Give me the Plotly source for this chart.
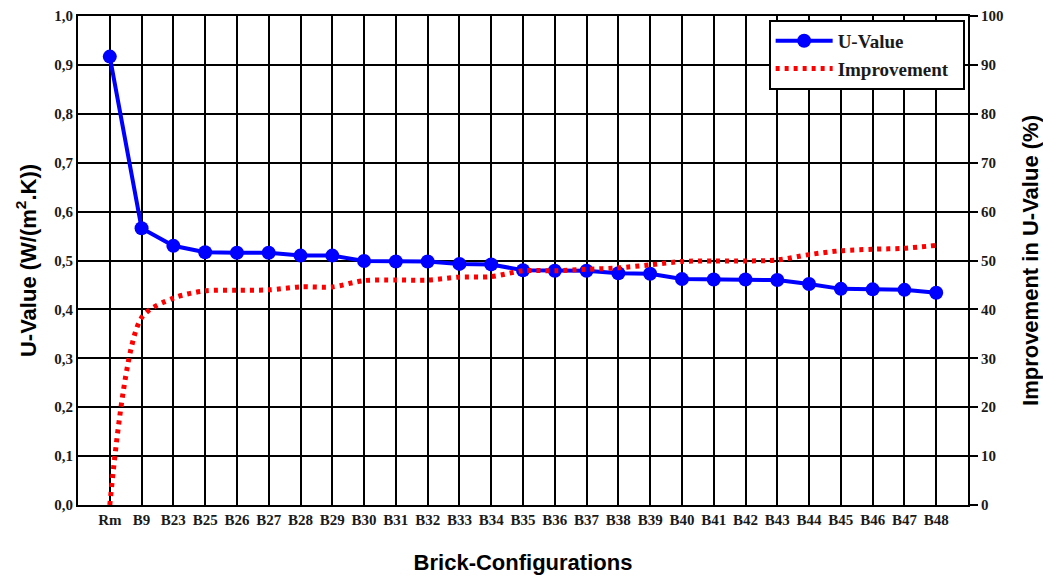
import plotly.graph_objects as go

categories = ["Rm", "B9", "B23", "B25", "B26", "B27", "B28", "B29", "B30", "B31", "B32",
              "B33", "B34", "B35", "B36", "B37", "B38", "B39", "B40", "B41", "B42",
              "B43", "B44", "B45", "B46", "B47", "B48"]
u_value = [0.917, 0.566, 0.530, 0.517, 0.516, 0.516, 0.510, 0.510, 0.499, 0.498, 0.498,
           0.493, 0.492, 0.480, 0.479, 0.479, 0.474, 0.473, 0.462, 0.461, 0.461,
           0.460, 0.452, 0.442, 0.441, 0.440, 0.434]
improvement = [0.0, 38.3, 42.3, 43.8, 43.9, 44.0, 44.6, 44.6, 45.9, 46.0, 46.0,
               46.6, 46.7, 47.9, 47.9, 48.2, 48.5, 49.1, 49.8, 49.9, 49.9,
               50.1, 51.2, 52.0, 52.3, 52.5, 53.1]

fig = go.Figure()
fig.add_trace(go.Scatter(
    x=categories, y=improvement, name="Improvement\u00a0\u00a0", yaxis="y2",
    mode="lines", line=dict(color="#ff0000", width=5, dash="4px,5px", shape="spline", smoothing=0.8),
    legendrank=2,
))
fig.add_trace(go.Scatter(
    x=categories, y=u_value, name="U-Value",
    mode="lines+markers", line=dict(color="#0000ff", width=4),
    marker=dict(size=14, color="#0000ff"),
    legendrank=1,
))

tickfont = dict(family="Liberation Serif", size=15, color="#1a1a1a", weight="bold")
titlefont = dict(family="Liberation Sans", size=22, color="#000000", weight="bold")

fig.update_layout(
    width=1043, height=579,
    margin=dict(l=78, r=75, t=16, b=74),
    paper_bgcolor="white", plot_bgcolor="white",
    separators=",.",
    showlegend=True,
    legend=dict(x=0.776, y=0.992, xanchor="left", yanchor="top",
                bgcolor="white", bordercolor="#000000", borderwidth=2,
                font=dict(family="Liberation Serif", size=19, color="#1a1a1a", weight="bold"),
                itemwidth=57),
    xaxis=dict(
        type="category", range=[-1, 27], automargin=False,
        showgrid=True, gridcolor="#000000", gridwidth=2,
        showline=True, linecolor="#000000", linewidth=2, mirror=True,
        ticks="", tickfont=tickfont,
        title=dict(text="Brick-Configurations", font=titlefont, standoff=28),
        zeroline=False,
    ),
    yaxis=dict(
        range=[0, 1.0], dtick=0.1, tickformat=".1f", automargin=False,
        showgrid=True, gridcolor="#000000", gridwidth=2,
        showline=True, linecolor="#000000", linewidth=2,
        ticks="", tickfont=tickfont,
        title=dict(text="U-Value (W/(m<sup>2</sup>.K))", font=titlefont, standoff=12),
        zeroline=False,
    ),
    yaxis2=dict(
        range=[0, 100], dtick=10, overlaying="y", side="right", automargin=False,
        showgrid=False,
        showline=True, linecolor="#000000", linewidth=2,
        ticks="outside", ticklen=8, tickwidth=2, tickcolor="#000000",
        tickfont=tickfont,
        title=dict(text="Improvement in U-Value (%)", font=titlefont, standoff=22),
        zeroline=False,
    ),
)

fig.write_html("out.html")
